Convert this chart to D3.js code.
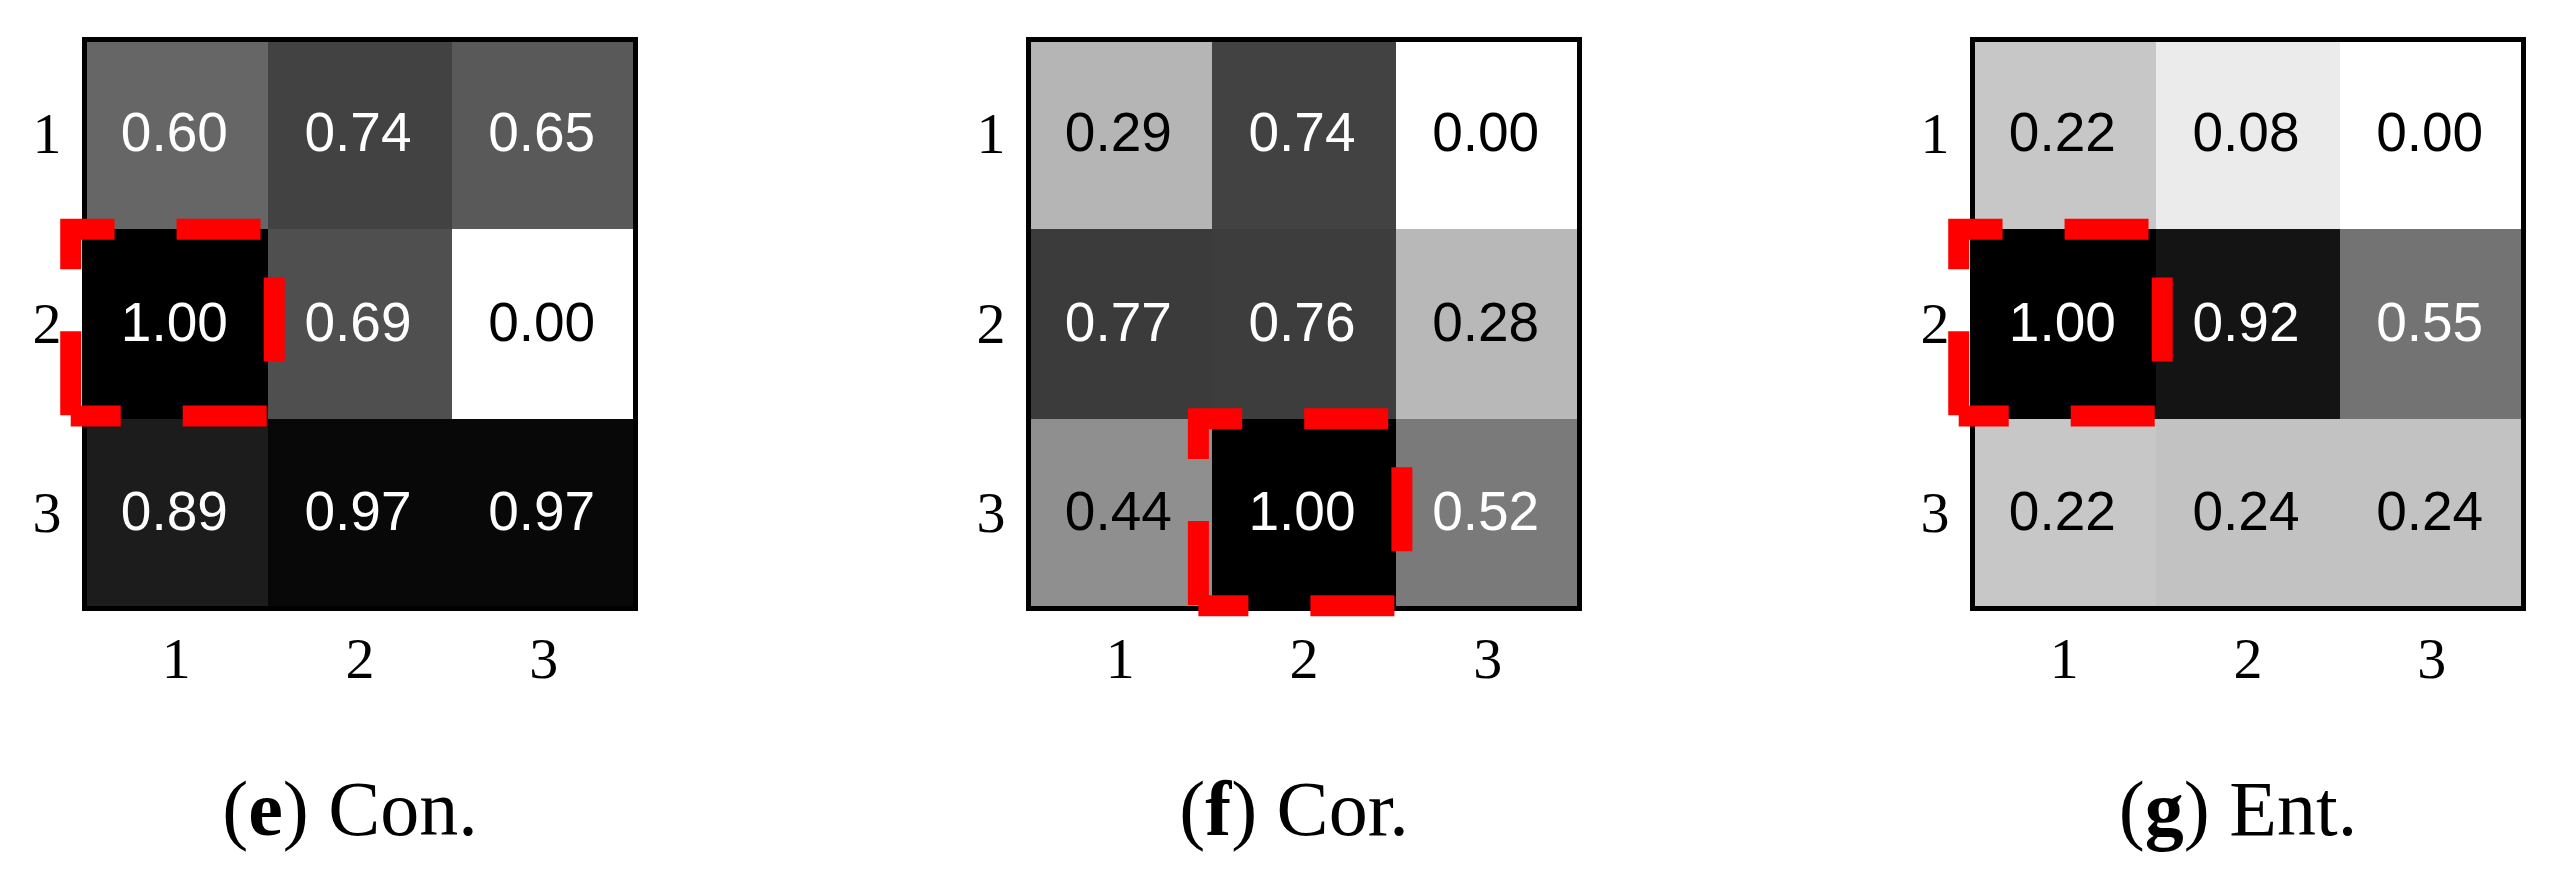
<!DOCTYPE html>
<html>
<head>
<meta charset="utf-8">
<script src="https://cdn.jsdelivr.net/npm/d3@7"></script>
<style>
  html, body { margin: 0; padding: 0; background: #ffffff; }
  svg { display: block; }
</style>
</head>
<body>
<div id="chart"></div>
<script>
// Matrix labels (rows and columns)
const rowLabels = ['1', '2', '3'];
const colLabels = ['1', '2', '3'];

// Normalised values per panel, row by row
const conValues = [
  [0.60, 0.74, 0.65],
  [1.00, 0.69, 0.00],
  [0.89, 0.97, 0.97]
];
const corValues = [
  [0.29, 0.74, 0.00],
  [0.77, 0.76, 0.28],
  [0.44, 1.00, 0.52]
];
const entValues = [
  [0.22, 0.08, 0.00],
  [1.00, 0.92, 0.55],
  [0.22, 0.24, 0.24]
];

// Highlighted cell of each panel: [row, col]
const highlightCells = [['2', '1'], ['3', '2'], ['2', '1']];

// Caption parts
const panelLetters = ['e', 'f', 'g'];
const panelNames = ['Con.', 'Cor.', 'Ent.'];

const panels = [conValues, corValues, entValues];

const width = 2559;
const height = 879;

const svg = d3.select('#chart')
  .append('svg')
  .attr('width', width)
  .attr('height', height);

// Grey colormap: 0 -> white, 1 -> black
const color = d3.scaleLinear()
  .domain([0, 1])
  .range(['#ffffff', '#000000']);

const plotW = 551;
const plotH = 569;
const plotLeft = 84.5;
const plotTop = 39.5;
const panelStep = 944;

const x = d3.scaleBand().domain(colLabels).range([0, plotW]);
const y = d3.scaleBand().domain(rowLabels).range([0, plotH]);

panels.forEach((values, i) => {
  const g = svg.append('g')
    .attr('transform', `translate(${plotLeft + i * panelStep}, ${plotTop})`);

  const cells = [];
  values.forEach((row, r) => {
    row.forEach((v, c) => {
      cells.push({ row: rowLabels[r], col: colLabels[c], value: v });
    });
  });

  // Cells
  g.selectAll('rect.cell')
    .data(cells)
    .enter()
    .append('rect')
    .attr('class', 'cell')
    .attr('x', d => x(d.col))
    .attr('y', d => y(d.row))
    .attr('width', x.bandwidth() + 0.5)
    .attr('height', y.bandwidth() + 0.5)
    .attr('fill', d => color(d.value))
    .attr('shape-rendering', 'crispEdges');

  // Values
  g.selectAll('text.val')
    .data(cells)
    .enter()
    .append('text')
    .attr('class', 'val')
    .attr('x', d => x(d.col) + x.bandwidth() / 2 - 2)
    .attr('y', d => y(d.row) + y.bandwidth() / 2 + 16.5)
    .attr('text-anchor', 'middle')
    .attr('font-family', '"Liberation Sans", Arial, sans-serif')
    .attr('font-size', 55)
    .attr('fill', d => d.value > 0.5 ? '#ffffff' : '#000000')
    .text(d => d.value.toFixed(2));

  // Frame
  g.append('rect')
    .attr('x', 0)
    .attr('y', 0)
    .attr('width', plotW)
    .attr('height', plotH)
    .attr('fill', 'none')
    .attr('stroke', '#000000')
    .attr('stroke-width', 5);

  // Axes (labels only)
  const yAxis = g.append('g')
    .call(d3.axisLeft(y).tickSize(0).tickPadding(23));
  const xAxis = g.append('g')
    .attr('transform', `translate(0, ${plotH})`)
    .call(d3.axisBottom(x).tickSize(0).tickPadding(28));

  [yAxis, xAxis].forEach(ax => {
    ax.select('.domain').remove();
    ax.selectAll('text')
      .attr('font-family', '"Liberation Serif", "Times New Roman", serif')
      .attr('font-size', 58)
      .attr('fill', '#000000');
  });

  // Red dashed highlight
  const [hr, hc] = highlightCells[i];
  const bw = x.bandwidth();
  const bh = y.bandwidth();
  const x0 = x(hc) - 0.075 * bw;
  const x1 = x0 + 1.108 * bw;
  const y0 = y(hr);
  const y1 = y0 + 0.985 * bh;
  g.append('path')
    .attr('d', `M${x0},${y1} L${x1},${y1} L${x1},${y0} L${x0},${y0} Z`)
    .attr('fill', 'none')
    .attr('stroke', '#ff0000')
    .attr('stroke-width', 21)
    .attr('stroke-dasharray', '84 62')
    .attr('stroke-dashoffset', 34)
    .attr('stroke-linejoin', 'miter');

  // Caption
  const caption = svg.append('text')
    .attr('x', plotLeft + i * panelStep + plotW / 2 - 10)
    .attr('y', 835)
    .attr('text-anchor', 'middle')
    .attr('font-family', '"Liberation Serif", "Times New Roman", serif')
    .attr('font-size', 78)
    .attr('fill', '#000000');
  caption.append('tspan').text('(');
  caption.append('tspan').attr('font-weight', 'bold').text(panelLetters[i]);
  caption.append('tspan').text(') ' + panelNames[i]);
});
</script>
</body>
</html>
